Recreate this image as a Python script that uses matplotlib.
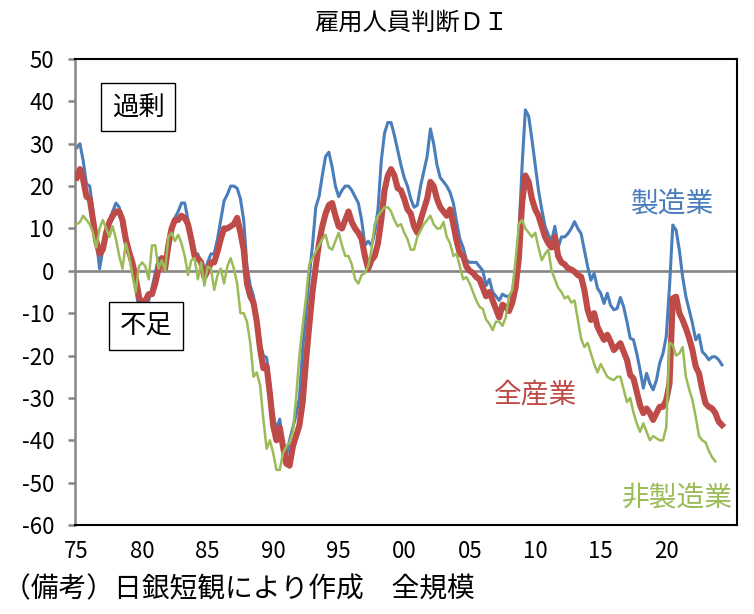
import matplotlib
matplotlib.use('Agg')
import matplotlib.pyplot as plt
import numpy as np
from matplotlib import font_manager

# 雇用人員判断DI (quarterly)
year_labels = ['75', '80', '85', '90', '95', '00', '05', '10', '15', '20']

mfg = [29, 30, 26, 20.5, 20, 14, 7.5, 0.5, 5, 10,
       12, 14, 16, 15, 10, 6, 4, 2, -4, -9,
       -10, -8.5, -7, -4, -0.5, 3, 2, 0, 7.5, 10.5,
       12.5, 14, 16, 16, 12, 7, 4, 4, 1, -0.5,
       2, 4, 4, 7.5, 12, 16.5, 18, 20, 20, 19.5,
       17, 12, 1, -3.5, -6, -12, -17, -20, -20.5, -27,
       -34, -37.5, -35, -41, -44, -40, -37, -34, -30, -18.5,
       -10, -1.5, 6, 15, 17.5, 22.5, 27, 28, 24.5, 20,
       17.5, 19, 20, 20, 19, 17.5, 16, 12, 6, 7,
       6, 9, 14.5, 26, 32.5, 35, 35, 32, 28.5, 25,
       22, 20, 17, 15, 15.5, 20, 23.5, 27, 33.5, 30,
       25, 22, 21, 20, 18.5, 16, 11.5, 7.5, 5.5, 2.5,
       2, 2, 2, 1, 0, -3.5, -2, -5, -6, -7,
       -5.5, -6, -6, -5, 0, 8, 25, 38, 36.5, 31,
       25, 19, 14.5, 10.5, 8.5, 7, 10.5, 5.5, 8, 8,
       8.8, 10, 11.6, 10, 8.8, 4.9, 1, -2.2, -0.6, -4.1,
       -5.3, -7.7, -5.3, -8.1, -9.2, -8.9, -6.3, -8.5, -12, -15.9,
       -16.3, -19.5, -23.4, -27.7, -24.2, -26.6, -28.1, -25.8, -21.8, -19.5,
       -15.5, -3.7, 10.8, 9.6, 4.9, -1.4, -6.1, -9.2, -12.4, -16.3,
       -15.1, -19.1, -19.9, -21, -20.3, -20.3, -21, -22.2]

allind = [22, 24, 21.5, 17.5, 17, 12, 7, 4, 5, 9,
          11.5, 13, 14, 14, 12, 7.5, 4.5, 2, -1.5, -6,
          -8.5, -7, -5.5, -5.5, -3, 0.5, 3, 0.5, 6, 10,
          12, 12, 13, 12.5, 11, 7.5, 3.5, 3, 2, -1.5,
          0, 2, 2, 4.5, 7.5, 10, 10, 10.5, 11, 12.5,
          9, 5, -3, -6, -7.5, -12, -18.5, -23, -22.5, -29,
          -36.5, -40, -37, -41.5, -45.5, -46, -41.5, -39, -36.5, -31,
          -21.5, -13, -5, 1, 6.5, 10.5, 13.5, 15.5, 16, 13,
          10.5, 10, 12, 14, 11.5, 10, 9, 7.5, 3.5, 0.5,
          2.5, 3.5, 6.5, 12, 19, 22.5, 24, 22.5, 19.5, 19,
          17, 14.5, 13.5, 10.5, 9, 12, 14.5, 17, 21, 20,
          17, 15, 14, 13, 14.5, 11, 7, 4, 3.5, 1,
          0, -0.5, -1.5, -2, -4, -6, -5, -7, -9, -11,
          -8, -8.5, -9.5, -7.5, -4, 3, 16, 22.5, 21, 17,
          14.5, 13, 10.5, 8, 6.5, 5.5, 8, 3.5, 2, 1.5,
          0.6, 0.3, -0.2, -1, -1.4, -4.5, -9.2, -11.6, -10, -13.2,
          -14.8, -16.3, -15.1, -16.7, -18.7, -17.9, -17.1, -19.1, -21, -24.6,
          -25.4, -28.5, -31.7, -33.6, -32.5, -33.6, -35.2, -33.6, -32.1, -32.1,
          -30.5, -26.6, -6.5, -6.1, -10, -11.6, -13.6, -15.9, -18.7, -22.6,
          -24.2, -28.1, -31.3, -32.1, -32.5, -33.6, -35.6, -36.4]

nonmfg = [11, 11.5, 13, 12, 11, 9, 5.5, 10, 12, 10,
          8, 10.5, 7.5, 3.5, 0.5, 6.5, 3.5, -1, -5, 1,
          2, 1, -2, 6, 6, 0.5, 2.5, 0, 8, 9,
          7, 8.5, 6.5, 3.5, -1, 2.5, 3, -2, 2, -3.5,
          1, 0.5, -4.5, -1, 0.5, -3, 1, 3, 0.5, -3,
          -10, -10, -12, -17, -25, -24, -27, -35, -42, -40,
          -43, -47, -47, -43, -41.5, -40.5, -38, -30, -20, -13,
          -6.5, 1.5, 3, 4.5, 6, 7.5, 8.5, 5.5, 5, 7,
          9, 6, 3.5, 3.5, 1.5, -2, -3, -1, -0.5, 1,
          5, 11, 13, 14, 15, 15, 14, 12, 10.5, 11,
          9, 7.5, 5, 5, 8, 9.5, 11, 12, 13, 11,
          10, 10, 11.5, 8, 6.5, 3.5, 4, 1, -2, -1.5,
          -3, -5, -7, -8.5, -9, -11.5, -12.5, -14, -12, -12,
          -13, -11, -6, -4.5, 2.5, 11, 12, 10, 9, 8,
          9, 5.5, 2.5, 4, 5, 0, -2, -4, -5, -6.5,
          -6, -7.5, -7, -11.5, -16, -18, -17, -19.5, -22, -24,
          -22, -23.5, -25, -25.5, -25.8, -25, -25, -28, -31, -30,
          -33.5, -36, -38, -36, -38, -40, -39, -39.5, -40, -40,
          -37, -17, -17.5, -20, -19.5, -18, -25, -28, -30.5, -34.5,
          -39, -40, -40.5, -42.5, -44, -45]

names = {f.name for f in font_manager.fontManager.ttflist}
if 'Liberation Sans Narrow' in names:
    num_font, num_size = 'Liberation Sans Narrow', 21
else:
    num_font, num_size = 'Noto Sans CJK JP', 16

plt.rcParams['font.family'] = ['Noto Sans CJK JP', 'DejaVu Sans']

W, H = 754, 614
fig = plt.figure(figsize=(W / 100, H / 100), dpi=100)
ax = fig.add_axes([75 / W, 89 / H, 662 / W, 466 / H])

ax.axhline(0, color='#868686', lw=1.9, zorder=1)
ax.plot(np.arange(len(mfg)), mfg, color='#4A7EBB', lw=2.2, zorder=2)
ax.plot(np.arange(len(allind)), allind, color='#BE4B48', lw=4.4, zorder=3,
        solid_joinstyle='round')
ax.plot(np.arange(len(nonmfg)), nonmfg, color='#9BBB59', lw=1.8, zorder=4)

ax.set_xlim(-0.5, 201.6)
ax.set_ylim(-60, 50)
yt = np.arange(-60, 51, 10)
ax.set_yticks(yt)
ax.set_yticklabels([str(v) for v in yt])
ax.set_xticks(np.arange(0, 20 * len(year_labels), 20))
ax.set_xticklabels(year_labels)

for s in ['top', 'right', 'bottom']:
    ax.spines[s].set_color('black')
    ax.spines[s].set_linewidth(1.5)
ax.spines['left'].set_color('#868686')
ax.spines['left'].set_linewidth(1.8)
ax.tick_params(axis='y', direction='out', length=5, width=1.8,
               color='#868686', pad=10)
ax.tick_params(axis='x', length=0, pad=11)
ax.tick_params(labelsize=num_size, labelfontfamily=num_font)

def fx(px):
    return px / W

def fy(py):
    return 1 - py / H

fig.text(fx(411), fy(23), '雇用人員判断ＤＩ', ha='center', va='center', fontsize=17.5)

box = dict(boxstyle='square,pad=0.4', fc='white', ec='black', lw=1.0)
fig.text(fx(138), fy(107), '過剰', ha='center', va='center', fontsize=19, bbox=box)
fig.text(fx(146), fy(326), '不足', ha='center', va='center', fontsize=19, bbox=box)

fig.text(fx(673), fy(204), '製造業', ha='center', va='center', fontsize=20, color='#4A7EBB')
fig.text(fx(536), fy(394), '全産業', ha='center', va='center', fontsize=20, color='#BE4B48')
fig.text(fx(677), fy(498), '非製造業', ha='center', va='center', fontsize=20, color='#9BBB59')

fig.text(fx(3), fy(589), '（備考）日銀短観により作成　全規模', ha='left', va='center', fontsize=20)

fig.savefig('out.png', dpi=100)
